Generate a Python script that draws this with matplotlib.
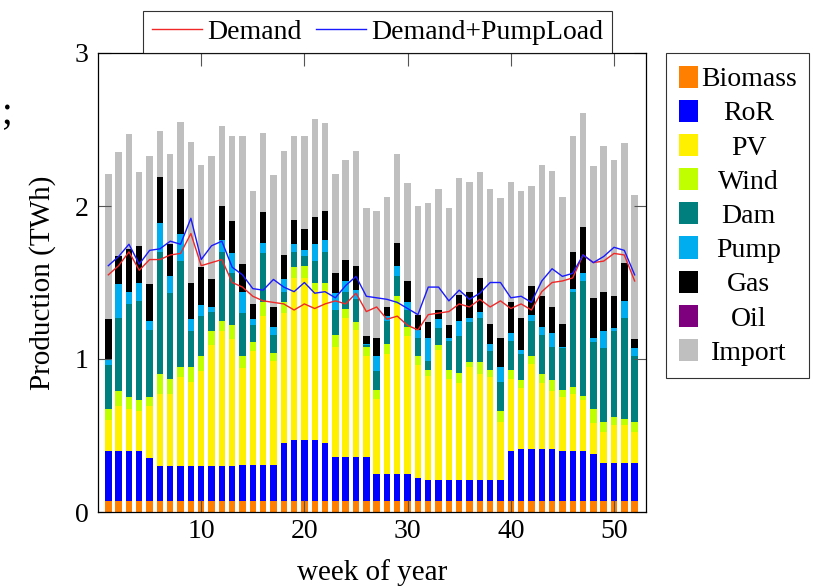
import numpy as np
import matplotlib
matplotlib.use('Agg')
import matplotlib.pyplot as plt
from matplotlib.patches import Patch

plt.rcParams['font.family'] = ['Liberation Serif', 'DejaVu Serif']

weeks = np.arange(1, 53)

# weekly production per source (TWh)
biomass = [0.07] * 52
ror = [0.33, 0.33, 0.33, 0.33, 0.28, 0.23, 0.23, 0.23, 0.23, 0.23,
       0.23, 0.23, 0.23, 0.24, 0.24, 0.24, 0.24, 0.38, 0.40, 0.40,
       0.40, 0.38, 0.29, 0.29, 0.29, 0.29, 0.18, 0.18, 0.18, 0.18,
       0.15, 0.14, 0.14, 0.14, 0.14, 0.14, 0.14, 0.14, 0.14, 0.33,
       0.34, 0.34, 0.34, 0.34, 0.33, 0.33, 0.33, 0.31, 0.25, 0.25,
       0.25, 0.25]
pv = [0.20, 0.29, 0.27, 0.26, 0.34, 0.47, 0.47, 0.58, 0.55, 0.62,
      0.79, 0.88, 0.83, 0.63, 0.74, 0.97, 0.68, 0.85, 1.06, 1.06,
      0.98, 1.00, 0.72, 0.91, 0.83, 0.66, 0.49, 0.78, 1.11, 0.90,
      0.74, 0.68, 0.85, 0.66, 0.63, 0.74, 0.69, 0.67, 0.38, 0.47,
      0.40, 0.56, 0.43, 0.38, 0.35, 0.37, 0.33, 0.20, 0.20, 0.25,
      0.25, 0.20]
wind = [0.07, 0.10, 0.08, 0.07, 0.06, 0.13, 0.10, 0.07, 0.10, 0.10,
        0.09, 0.07, 0.09, 0.08, 0.06, 0.09, 0.05, 0.07, 0.07, 0.08,
        0.05, 0.05, 0.08, 0.06, 0.05, 0.06, 0.06, 0.07, 0.05, 0.06,
        0.06, 0.04, 0.03, 0.06, 0.07, 0.03, 0.08, 0.05, 0.07, 0.06,
        0.05, 0.05, 0.06, 0.07, 0.05, 0.05, 0.03, 0.09, 0.07, 0.05,
        0.04, 0.07]
dam = [0.29, 0.48, 0.61, 0.65, 0.44, 0.80, 0.56, 0.69, 0.23, 0.26,
       0.13, 0.45, 0.34, 0.28, 0.11, 0.32, 0.12, 0.07, 0.10, 0.06,
       0.14, 0.20, 0.16, 0.11, 0.15, 0.01, 0.12, 0.15, 0.13, 0.11,
       0.12, 0.06, 0.11, 0.19, 0.24, 0.26, 0.29, 0.12, 0.19, 0.19,
       0.17, 0.23, 0.26, 0.22, 0.27, 0.62, 0.75, 0.44, 0.48, 0.56,
       0.66, 0.43]
pump = [0.04, 0.22, 0.08, 0.12, 0.06, 0.19, 0.11, 0.18, 0.08, 0.07,
        0.03, 0.08, 0.13, 0.14, 0.04, 0.07, 0.05, 0.08, 0.05, 0.04,
        0.11, 0.08, 0.11, 0.07, 0.06, 0.01, 0.10, 0.03, 0.07, 0.05,
        0.05, 0.15, 0.06, 0.02, 0.10, 0.03, 0.04, 0.05, 0.10, 0.05,
        0.03, 0.04, 0.05, 0.09, 0.01, 0.02, 0.05, 0.03, 0.11, 0.02,
        0.11, 0.05]
gas = [0.26, 0.18, 0.28, 0.24, 0.24, 0.30, 0.21, 0.29, 0.24, 0.25,
       0.18, 0.22, 0.21, 0.18, 0.10, 0.20, 0.13, 0.16, 0.16, 0.14,
       0.18, 0.19, 0.13, 0.14, 0.16, 0.05, 0.12, 0.06, 0.15, 0.14,
       0.10, 0.10, 0.06, 0.08, 0.17, 0.17, 0.22, 0.13, 0.19, 0.20,
       0.21, 0.19, 0.20, 0.17, 0.15, 0.24, 0.30, 0.26, 0.26, 0.21,
       0.25, 0.06]
oil = [0.0] * 52
imports = [0.95, 0.68, 0.75, 0.48, 0.84, 0.30, 0.59, 0.44, 0.92, 0.67,
           0.81, 0.52, 0.56, 0.84, 0.74, 0.52, 0.86, 0.68, 0.55, 0.61,
           0.64, 0.57, 0.65, 0.65, 0.75, 0.84, 0.83, 0.72, 0.58, 0.64,
           0.71, 0.78, 0.79, 0.77, 0.76, 0.72, 0.69, 0.88, 0.91, 0.79,
           0.83, 0.65, 0.86, 0.89, 0.83, 0.76, 0.75, 0.86, 0.95, 0.89,
           0.78, 0.94]

demand = [1.55, 1.61, 1.70, 1.58, 1.65, 1.65, 1.68, 1.69, 1.82, 1.61,
          1.63, 1.65, 1.50, 1.47, 1.41, 1.38, 1.37, 1.36, 1.32, 1.36,
          1.33, 1.36, 1.38, 1.36, 1.43, 1.31, 1.34, 1.26, 1.28, 1.22,
          1.19, 1.29, 1.30, 1.31, 1.36, 1.34, 1.39, 1.34, 1.38, 1.33,
          1.36, 1.32, 1.44, 1.50, 1.51, 1.53, 1.68, 1.63, 1.64, 1.69,
          1.68, 1.51]
demand_pump = [1.61, 1.67, 1.75, 1.62, 1.71, 1.72, 1.77, 1.75, 1.92, 1.65,
               1.74, 1.77, 1.60, 1.55, 1.46, 1.45, 1.52, 1.47, 1.44, 1.50,
               1.43, 1.44, 1.40, 1.48, 1.54, 1.41, 1.40, 1.39, 1.37, 1.33,
               1.29, 1.47, 1.47, 1.38, 1.45, 1.39, 1.43, 1.50, 1.50, 1.40,
               1.41, 1.37, 1.51, 1.59, 1.54, 1.56, 1.68, 1.63, 1.67, 1.73,
               1.71, 1.55]

sources = ['Biomass', 'RoR', 'PV', 'Wind', 'Dam', 'Pump', 'Gas', 'Oil', 'Import']
series = [biomass, ror, pv, wind, dam, pump, gas, oil, imports]
colors = ['#ff7f00', '#0000ff', '#fff000', '#bfff00', '#007f7f',
          '#00aeef', '#000000', '#7f007f', '#bfbfbf']

fig = plt.figure(figsize=(8.21, 5.86), dpi=100)
ax = fig.add_axes([98 / 821, 1 - 512 / 586, 548 / 821, 459 / 586])

bottom = np.zeros(len(weeks))
bar_handles = []
for name, vals, c in zip(sources, series, colors):
    vals = np.array(vals)
    ax.bar(weeks, vals, width=0.62, bottom=bottom, color=c, linewidth=0)
    bottom += vals
    bar_handles.append(Patch(facecolor=c, edgecolor='none', label=name))

l1, = ax.plot(weeks, demand, color='#f02828', lw=1.0, label='Demand')
l2, = ax.plot(weeks, demand_pump, color='#1a1aff', lw=1.0, label='Demand+PumpLoad')

ax.set_xlim(0, 53.1)
ax.set_ylim(0, 3)
ax.set_xticks([10, 20, 30, 40, 50])
ax.set_yticks([0, 1, 2, 3])
ax.tick_params(direction='in', length=9, width=0.8, color='#555555',
               top=True, right=True, labelsize=20, pad=7)
ax.tick_params(axis='x', pad=5)
for s in ax.spines.values():
    s.set_linewidth(0.9)

ax.set_xlabel('week of year', fontsize=21)
ax.set_ylabel('Production (TWh)', fontsize=21)
ax.xaxis.set_label_coords(0.5, -0.103)
ax.yaxis.set_label_coords(-0.076, 0.5)

leg1 = ax.legend(handles=[l1, l2], loc='lower center', bbox_to_anchor=(0.51, 1.0),
                 ncol=2, fontsize=20, frameon=True, fancybox=False, edgecolor='black',
                 borderaxespad=0, handlelength=1.8, handletextpad=0.2,
                 columnspacing=0.5, borderpad=0.3)
leg1.get_frame().set_linewidth(0.8)
ax.add_artist(leg1)

leg2 = ax.legend(handles=bar_handles, loc='upper left', bbox_to_anchor=(1.0365, 1.0),
                 fontsize=20, frameon=True, fancybox=False, edgecolor='black',
                 borderaxespad=0, handlelength=0.7, handleheight=0.85,
                 handletextpad=0.1, labelspacing=0.27, borderpad=0.45)
leg2.get_frame().set_linewidth(0.8)

# centre the labels inside the right legend, like pgfplots does
fig.canvas.draw()
texts = leg2.get_texts()
boxes = [t.get_window_extent() for t in texts]
xc = (min(b.x0 for b in boxes) + max(b.x1 for b in boxes)) / 2
for t, b in zip(texts, boxes):
    t.set_x(xc - (b.x0 + b.x1) / 2)

# fragment of the surrounding page text at the left edge
fig.text(0.002, 1 - 124 / 586, ';', fontsize=28, ha='left', va='baseline')

fig.savefig('out.png', dpi=100)
